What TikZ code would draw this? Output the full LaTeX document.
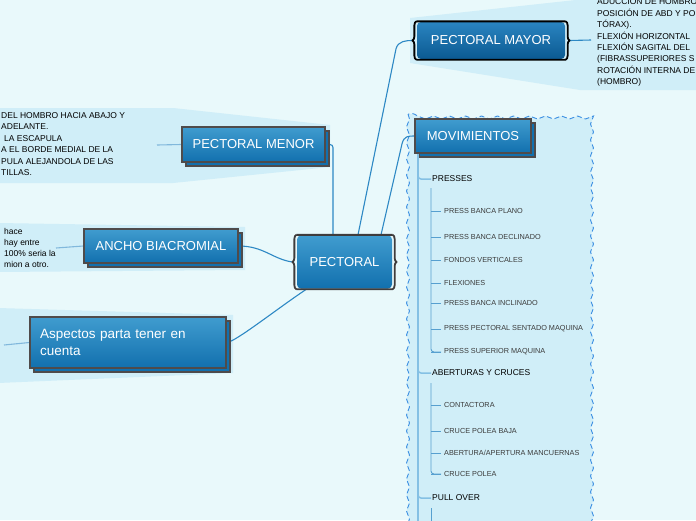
\documentclass[tikz,border=0pt]{standalone}
\usepackage{fontspec}
\setmainfont{Liberation Sans}
\usetikzlibrary{positioning,calc,backgrounds,decorations.pathmorphing,decorations.pathreplacing}
\definecolor{bgsky}{HTML}{E9F9FB}
\definecolor{wedge}{HTML}{D0EEF8}
\definecolor{topblue}{HTML}{409CCF}
\definecolor{botblue}{HTML}{1270AE}
\definecolor{darktop}{HTML}{2A84C0}
\definecolor{darkbot}{HTML}{0B5A92}
\definecolor{frame}{HTML}{4F4B4B}
\definecolor{linkblue}{HTML}{2D88C4}
\definecolor{trunkblue}{HTML}{84C0E4}
\definecolor{dashblue}{HTML}{3C8FE2}
\definecolor{leafgray}{HTML}{3A3A3A}

\begin{document}
\begin{tikzpicture}[x=1pt, y=-1pt,
  topic/.style={draw=frame, line width=1.3pt, top color=topblue, bottom color=botblue,
    text=white, font=\fontsize{13}{15}\selectfont, inner sep=0pt},
  shadowed/.style={preaction={fill=botblue, draw=frame, line width=1.3pt,
    transform canvas={shift={(4pt,-4pt)}}}},
  bracefr/.style={line width=1.8pt, line join=round, decoration={brace, amplitude=4pt}},
  note/.style={font=\fontsize{8.5}{11.4}\selectfont, align=left, inner sep=0pt, anchor=west},
  link/.style={draw=linkblue, line width=1.1pt},
  trunkline/.style={draw=trunkblue, line width=1.5pt},
  twig/.style={draw=linkblue!80, line width=0.9pt},
  head/.style={font=\fontsize{8.5}{10}\selectfont, inner sep=1pt, anchor=west},
  leaf/.style={font=\fontsize{7.3}{9}\selectfont, text=leafgray, inner sep=1pt, anchor=west},
  groupbox/.style={fill=wedge, draw=dashblue, line width=0.9pt, dash pattern=on 5pt off 3pt,
    decorate, decoration={snake, amplitude=1.5pt, segment length=16pt}}
]
  \useasboundingbox (0,0) rectangle (696,520);

  % main topics
  \node[topic, draw=none, minimum width=95, minimum height=53, rounded corners=4] (pect) at (344.5,262) {PECTORAL};
  \node[topic, draw=none, minimum width=148, minimum height=37, rounded corners=4,
    top color=darktop, bottom color=darkbot] (mayor) at (491,40.5) {PECTORAL MAYOR};
  \node[topic, shadowed, minimum width=143, minimum height=35] (menor) at (253.5,144.5) {PECTORAL MENOR};
  \node[topic, shadowed, minimum width=154, minimum height=34] (ancho) at (161,246) {ANCHO BIACROMIAL};
  \node[topic, shadowed, minimum width=196, minimum height=51, text width=176, align=left,
    font=\fontsize{13.5}{17}\selectfont] (asp) at (128,342.5) {Aspectos parta tener en\\cuenta};
  \node[topic, shadowed, minimum width=116, minimum height=34] (mov) at (473,136) {MOVIMIENTOS};

  % brace frames
  \draw[bracefr, frame!80!black] (pect.north west) -- (pect.north east)
    decorate{-- (pect.south east)} -- (pect.south west) decorate{-- (pect.north west)};
  \draw[bracefr, black] (mayor.north west) -- (mayor.north east)
    decorate{-- (mayor.south east)} -- (mayor.south west) decorate{-- (mayor.north west)};

  % notes
  \node[note] (mayortxt) at (597,42) {ADUCCIÓN DE HOMBRO\\POSICIÓN DE ABD Y PO\\TÓRAX).\\FLEXIÓN HORIZONTAL\\FLEXIÓN SAGITAL DEL\\(FIBRASSUPERIORES S\\ROTACIÓN INTERNA DE\\(HOMBRO)};
  \node[note] (menortxt) at (1,144) {DEL HOMBRO HACIA ABAJO Y\\ADELANTE.\\\hspace*{3pt}LA ESCAPULA\\A EL BORDE MEDIAL DE LA\\PULA ALEJANDOLA DE LAS\\TILLAS.};
  \node[note, font=\fontsize{8.5}{11}\selectfont] (anchotxt) at (4,248) {hace\\hay entre\\100\% seria la\\mion a otro.};

  \coordinate (mayorend) at (591,40);
  \coordinate (menorend) at (157,145);
  \coordinate (anchoend) at (56,248);
  \coordinate (aspend) at (4,345);

  % movimientos tree
  \coordinate (trunk) at (418,153);
  \coordinate (trunkend) at (418,525);
  \draw[trunkline] (mov.south -| trunk) -- (trunkend);

  \node[head] (presses) at (431,179) {PRESSES};
  \node[head] (abert) at (431,373) {ABERTURAS Y CRUCES};
  \node[head] (pull) at (431,498) {PULL OVER};
  \foreach \h in {presses,abert,pull} {
    \draw[trunkline, rounded corners=3] ($(\h.west -| trunk)+(0,-8)$) |- (\h.west);
  }

  \coordinate (pv) at (431,188);
  \foreach \n/\y/\t in {p1/211/PRESS BANCA PLANO, p2/237/PRESS BANCA DECLINADO,
      p3/260/FONDOS VERTICALES, p4/283/FLEXIONES, p5/303/PRESS BANCA INCLINADO,
      p6/329/PRESS PECTORAL SENTADO MAQUINA, p7/352/PRESS SUPERIOR MAQUINA} {
    \node[leaf] (\n) at (443,\y) {\t};
    \draw[twig] (pv |- \n.west) -- ([xshift=-2]\n.west);
  }
  \draw[twig, rounded corners=3] (pv) |- ([xshift=-2]p7.west);

  \coordinate (av) at (431,383);
  \foreach \n/\y/\t in {a1/405/CONTACTORA, a2/431/CRUCE POLEA BAJA,
      a3/453/{ABERTURA/APERTURA MANCUERNAS}, a4/474/CRUCE POLEA} {
    \node[leaf] (\n) at (443,\y) {\t};
    \draw[twig] (av |- \n.west) -- ([xshift=-2]\n.west);
  }
  \draw[twig, rounded corners=3] (av) |- ([xshift=-2]a4.west);

  \coordinate (pullv) at (431,508);
  \coordinate (pullend) at (431,525);
  \draw[twig] (pullv) -- (pullend);

  \begin{scope}[on background layer]
    \fill[bgsky] (0,0) rectangle (696,520);
    % wedges
    \fill[wedge] (410,18) -- (594,-2) -- (698,-2) -- (698,90) -- (580,90) -- (410,63) -- cycle;
    \fill[wedge] (-2,108) -- (173,108) -- (330,125) -- (330,167) -- (173,183) -- (-2,183) -- cycle;
    \fill[wedge] (-2,223) -- (245,227) -- (245,270) -- (-2,272) -- cycle;
    \fill[wedge] (-2,308) -- (233,315) -- (233,373) -- (-2,383) -- cycle;
    \path[groupbox] (408,114) rectangle (592,540);

    \draw[link, rounded corners=3] (menor.east) -| ([xshift=-11.5]pect.north);
    \draw[link] ([xshift=13.5]pect.north) -- ++(38,-186) .. controls +(2,-8) and +(-6,0) .. ([xshift=-4]mayor.west);
    \draw[link] ([xshift=36.5]pect.north) -- ++(21,-91) .. controls +(2,-8) and +(-6,0) .. (mov.west);
    \draw[link] (ancho.east) .. controls +(25,0) and +(-20,-3) .. ([xshift=-4]pect.west);
    \draw[link] (asp.east) .. controls +(8,0) and +(-30,20) .. ([xshift=-38]pect.south);
    \draw[link] ([xshift=4]mayor.east) -- (mayorend);
    \draw[link, linkblue!60] (menor.west) -- (menorend);
    \draw[link, linkblue!60] (ancho.west) -- (anchoend);
    \draw[link, linkblue!60] (asp.west) -- (aspend);
  \end{scope}
\end{tikzpicture}
\end{document}
